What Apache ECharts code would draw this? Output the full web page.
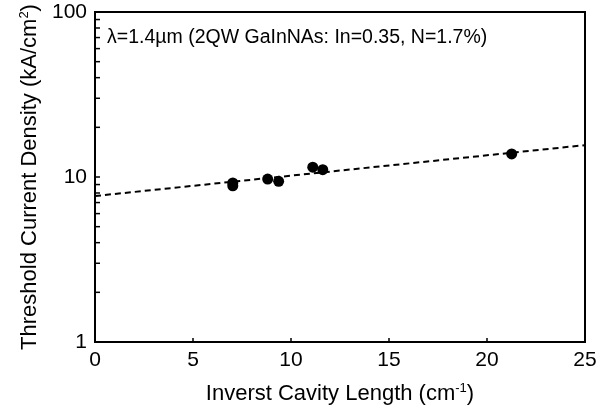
<!DOCTYPE html>
<html><head><meta charset="utf-8">
<script src="https://cdn.jsdelivr.net/npm/echarts@6/dist/echarts.min.js"></script>
<style>html,body{margin:0;padding:0;background:#fff}#c{width:607px;height:412px}</style>
</head><body><div id="c"></div>
<script>
const pointsX = [7.03, 7.03, 8.81, 9.37, 11.11, 11.62, 21.26];
const pointsY = [9.2, 8.85, 9.72, 9.41, 11.46, 11.08, 13.8];
const fitX = [0, 25];
const fitY = [7.67, 15.6];
const xTicks = [0, 5, 10, 15, 20, 25];
const yTickLabels = [1, 10, 100];
const yMinorTicks = [2,3,4,5,6,7,8,9,10,20,30,40,50,60,70,80,90];
const annotation = 'λ=1.4µm (2QW GaInNAs: In=0.35, N=1.7%)';

const FONT = 'Liberation Sans, Arial, Helvetica, sans-serif';
const chart = echarts.init(document.getElementById('c'), null, {renderer:'canvas'});
chart.setOption({
  animation:false,
  backgroundColor:'#fff',
  grid:{left:95, right:22, top:12, bottom:70, show:true, borderColor:'#000', borderWidth:2},
  xAxis:{type:'value', min:0, max:25, interval:5,
    axisLine:{show:true, onZero:false, lineStyle:{color:'#000', width:2}},
    axisTick:{show:true, inside:true, length:4, interval:0, lineStyle:{color:'#000', width:1.5}, customValues: xTicks.slice(1,-1)},
    axisLabel:{color:'#000', fontSize:21, fontFamily:FONT, margin:8, customValues: xTicks},
    splitLine:{show:false},
    name:'Inverst Cavity Length (cm{sup|-1})', nameLocation:'middle', nameGap:40,
    nameTextStyle:{color:'#000', fontSize:22, fontFamily:FONT,
      rich:{sup:{fontSize:13, fontFamily:FONT, color:'#000', verticalAlign:'top', lineHeight:24}}}
  },
  yAxis:{type:'log', logBase:10, min:1, max:100,
    axisLine:{show:true, lineStyle:{color:'#000', width:2}},
    axisTick:{show:false},
    axisLabel:{color:'#000', fontSize:21, fontFamily:FONT, margin:8, interval:0, customValues: yTickLabels},
    splitLine:{show:false},
    name:'Threshold Current Density (kA/cm{sup|2})', nameLocation:'middle', nameGap:47,
    nameTextStyle:{color:'#000', fontSize:22, fontFamily:FONT,
      rich:{sup:{fontSize:13, fontFamily:FONT, color:'#000', verticalAlign:'top', lineHeight:24}}}
  },
  graphic:[{type:'text', left:107, top:28, style:{text:annotation, fill:'#000', font:'19.5px '+FONT}}],
  series:[
    {type:'custom', data: yMinorTicks.map(v=>[0, v]), clip:false, silent:true, z:4,
      renderItem:(params, api)=>{
        const p = api.coord([0, api.value(1)]);
        return {type:'line', shape:{x1:p[0], y1:p[1], x2:p[0]+5, y2:p[1]},
          style:{stroke:'#000', lineWidth:1.5}};
      }},
    {type:'line', data: fitX.map((x,i)=>[x, fitY[i]]), showSymbol:false, symbol:'none',
      lineStyle:{color:'#000', width:2, type:[6,4]}, z:2},
    {type:'scatter', data: pointsX.map((x,i)=>[x, pointsY[i]]), symbol:'circle', symbolSize:11,
      itemStyle:{color:'#000', opacity:1}, z:3}
  ]
});
</script></body></html>
